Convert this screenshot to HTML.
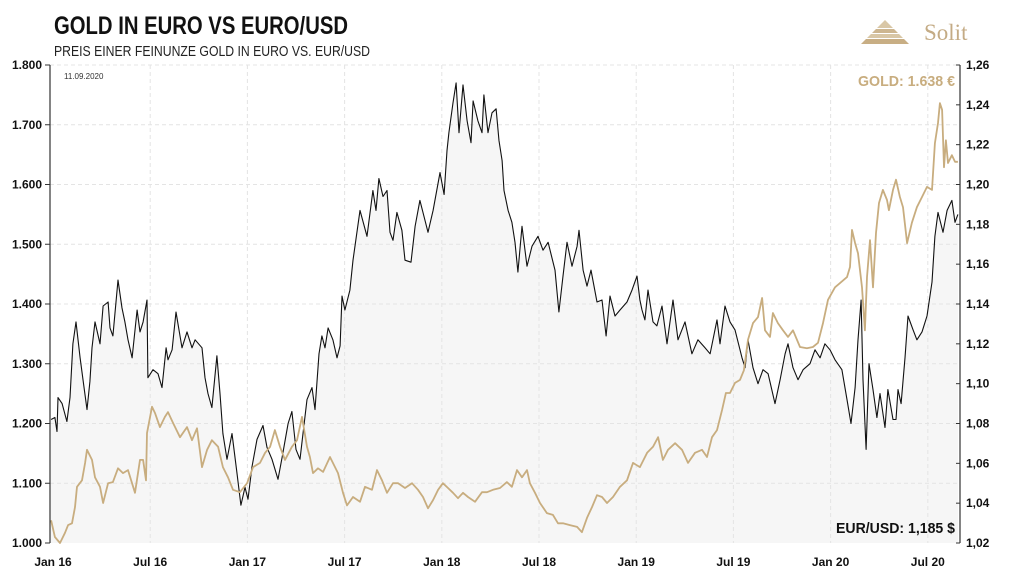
<!DOCTYPE html>
<html><head><meta charset="utf-8"><style>
html,body{margin:0;padding:0;background:#fff;}
svg{display:block;font-family:"Liberation Sans Narrow","Liberation Sans",sans-serif;}
</style></head><body>
<svg id="chart" width="1024" height="576" viewBox="0 0 1024 576">
<text x="54" y="34" font-size="25" font-weight="bold" fill="#111" textLength="294" lengthAdjust="spacingAndGlyphs">GOLD IN EURO VS EURO/USD</text>
<text x="54" y="56" font-size="15" fill="#222" textLength="316" lengthAdjust="spacingAndGlyphs">PREIS EINER FEINUNZE GOLD IN EURO VS.  EUR/USD</text>
<g>
<polygon points="885,20 893,28 877,28" fill="#d9c7a6"/>
<polygon points="876,29 894,29 898,33 872,33" fill="#cdb690"/>
<polygon points="871,34 899,34 903,38 867,38" fill="#d9c7a6"/>
<polygon points="866,39 904,39 909,44 861,44" fill="#c8ae84"/>
<text x="924" y="40" font-family="Liberation Serif,serif" font-size="23" fill="#c4ab85">Solit</text>
</g>
<g id="grid"></g>
<g id="plot"></g>
<g id="axes"></g>
<text x="64" y="79" font-family="Liberation Sans,sans-serif" font-size="8" fill="#333">11.09.2020</text>
<text x="858" y="86" font-size="15" font-weight="bold" fill="#c8ad7f" textLength="97" lengthAdjust="spacingAndGlyphs">GOLD: 1.638 €</text>
<text x="836" y="533" font-size="15" font-weight="bold" fill="#111" textLength="119" lengthAdjust="spacingAndGlyphs">EUR/USD: 1,185 $</text>
</svg>
<script>
const goldMonths=[-0.12,0.12,0.43,0.74,0.93,1.17,1.36,1.48,1.79,1.98,2.10,2.41,2.59,2.90,3.09,3.40,3.70,4.01,4.32,4.63,5.06,5.37,5.56,5.74,5.80,6.11,6.30,6.60,6.91,7.10,7.41,7.84,8.27,8.58,8.89,9.20,9.51,9.81,10.19,10.49,10.80,11.11,11.54,11.98,12.35,12.78,13.09,13.40,13.70,14.01,14.32,14.75,15.06,15.37,15.68,15.86,16.05,16.36,16.67,17.10,17.28,17.59,17.90,18.15,18.52,18.95,19.26,19.69,20.00,20.31,20.62,20.99,21.30,21.73,22.16,22.53,22.84,23.15,23.46,23.77,24.07,24.38,24.69,25.00,25.31,25.62,26.05,26.48,26.79,27.16,27.59,28.02,28.33,28.64,28.95,29.26,29.44,29.75,30.06,30.49,30.86,31.17,31.48,31.91,32.35,32.65,32.96,33.27,33.58,33.89,34.20,34.57,35.00,35.43,35.80,36.23,36.67,37.04,37.35,37.65,37.96,38.40,38.83,39.20,39.63,40.06,40.37,40.68,40.99,41.30,41.54,41.79,42.10,42.41,42.65,42.90,43.21,43.52,43.77,43.95,44.26,44.44,44.75,45.06,45.37,45.68,46.11,46.54,46.91,47.22,47.53,47.84,48.27,48.58,49.01,49.20,49.32,49.51,49.69,49.94,50.12,50.25,50.43,50.62,50.80,50.99,51.23,51.48,51.60,51.85,52.04,52.28,52.47,52.72,53.02,53.33,53.64,53.95,54.26,54.44,54.63,54.75,54.88,55.00,55.12,55.25,55.49,55.68,55.86];
const goldValues=[1.038,1.010,1.000,1.017,1.030,1.033,1.060,1.094,1.105,1.134,1.156,1.139,1.110,1.094,1.067,1.100,1.102,1.125,1.117,1.122,1.084,1.139,1.139,1.105,1.184,1.228,1.217,1.194,1.211,1.219,1.201,1.177,1.194,1.172,1.192,1.127,1.156,1.172,1.161,1.127,1.110,1.089,1.085,1.100,1.127,1.134,1.151,1.161,1.189,1.161,1.139,1.161,1.172,1.211,1.161,1.144,1.117,1.125,1.119,1.144,1.134,1.117,1.084,1.063,1.077,1.069,1.094,1.089,1.122,1.105,1.084,1.100,1.100,1.092,1.100,1.089,1.077,1.058,1.072,1.089,1.100,1.092,1.084,1.075,1.084,1.077,1.069,1.085,1.085,1.089,1.092,1.102,1.094,1.122,1.110,1.122,1.100,1.084,1.067,1.050,1.047,1.033,1.033,1.030,1.027,1.018,1.042,1.060,1.080,1.077,1.067,1.077,1.094,1.105,1.134,1.127,1.151,1.161,1.177,1.139,1.156,1.167,1.156,1.134,1.151,1.156,1.144,1.177,1.189,1.223,1.251,1.251,1.268,1.273,1.289,1.340,1.368,1.378,1.410,1.356,1.345,1.385,1.368,1.356,1.345,1.356,1.328,1.326,1.328,1.335,1.368,1.407,1.428,1.435,1.445,1.462,1.524,1.502,1.485,1.428,1.356,1.445,1.507,1.428,1.519,1.569,1.591,1.574,1.557,1.591,1.608,1.579,1.562,1.502,1.536,1.562,1.579,1.596,1.591,1.669,1.703,1.736,1.725,1.629,1.674,1.636,1.649,1.638,1.638];
const usdMonths=[-0.12,0.12,0.25,0.31,0.56,0.86,1.05,1.23,1.42,1.67,1.85,2.10,2.28,2.41,2.59,2.90,3.09,3.40,3.52,3.70,4.01,4.26,4.44,4.63,4.88,5.19,5.37,5.56,5.80,5.86,6.17,6.48,6.73,6.98,7.10,7.35,7.59,7.96,8.27,8.58,8.77,9.20,9.38,9.57,9.81,10.12,10.31,10.49,10.74,11.05,11.36,11.60,11.85,12.04,12.28,12.59,12.96,13.21,13.52,13.89,14.14,14.51,14.75,15.00,15.25,15.43,15.68,15.99,16.17,16.42,16.60,16.79,16.98,17.28,17.53,17.72,17.84,18.02,18.33,18.52,18.95,19.38,19.75,19.94,20.12,20.37,20.62,20.80,20.99,21.23,21.54,21.73,22.10,22.35,22.65,22.96,23.15,23.46,23.89,24.14,24.32,24.44,24.69,24.88,25.06,25.31,25.56,25.80,25.93,26.23,26.48,26.60,26.85,27.10,27.35,27.53,27.72,27.84,28.09,28.33,28.52,28.70,28.95,29.26,29.57,29.94,30.25,30.56,30.99,31.23,31.48,31.73,32.04,32.35,32.47,32.72,32.96,33.21,33.58,33.89,34.14,34.38,34.69,35.00,35.43,35.74,36.05,36.23,36.36,36.54,36.73,37.04,37.28,37.59,37.90,38.27,38.58,39.01,39.44,39.81,40.25,40.56,40.99,41.17,41.48,41.79,42.10,42.53,42.72,42.90,43.21,43.52,43.83,44.14,44.57,44.88,45.19,45.37,45.68,45.99,46.30,46.73,47.04,47.35,47.65,47.96,48.27,48.70,49.01,49.26,49.51,49.69,49.88,50.00,50.19,50.37,50.62,50.86,51.05,51.36,51.54,51.85,52.04,52.16,52.35,52.59,52.78,53.09,53.33,53.64,53.95,54.26,54.44,54.63,54.94,55.19,55.49,55.68,55.86];
const usdValues=[1.082,1.083,1.076,1.093,1.090,1.081,1.093,1.120,1.131,1.113,1.102,1.087,1.101,1.118,1.131,1.120,1.139,1.141,1.128,1.124,1.152,1.138,1.131,1.122,1.113,1.137,1.126,1.131,1.142,1.103,1.107,1.105,1.098,1.118,1.112,1.117,1.136,1.118,1.126,1.118,1.122,1.118,1.103,1.095,1.088,1.114,1.095,1.075,1.062,1.075,1.055,1.039,1.048,1.042,1.058,1.072,1.079,1.068,1.062,1.052,1.063,1.080,1.086,1.067,1.062,1.075,1.092,1.098,1.087,1.115,1.124,1.118,1.128,1.122,1.113,1.119,1.144,1.137,1.147,1.162,1.187,1.174,1.197,1.187,1.203,1.194,1.197,1.176,1.172,1.186,1.177,1.162,1.161,1.179,1.192,1.182,1.176,1.187,1.206,1.195,1.217,1.226,1.241,1.251,1.226,1.250,1.232,1.221,1.242,1.232,1.226,1.245,1.226,1.236,1.238,1.222,1.212,1.197,1.187,1.181,1.171,1.156,1.179,1.159,1.169,1.174,1.167,1.171,1.157,1.136,1.154,1.171,1.159,1.169,1.177,1.157,1.149,1.157,1.141,1.142,1.124,1.144,1.134,1.137,1.141,1.147,1.154,1.142,1.137,1.132,1.147,1.131,1.129,1.139,1.120,1.142,1.122,1.131,1.115,1.122,1.118,1.115,1.132,1.120,1.139,1.131,1.127,1.113,1.108,1.122,1.108,1.100,1.107,1.105,1.090,1.102,1.115,1.120,1.108,1.102,1.107,1.110,1.117,1.113,1.120,1.117,1.112,1.107,1.092,1.080,1.098,1.122,1.142,1.102,1.067,1.110,1.097,1.083,1.095,1.078,1.097,1.082,1.082,1.097,1.090,1.113,1.134,1.127,1.122,1.126,1.134,1.151,1.174,1.186,1.176,1.187,1.192,1.181,1.185];
const xTickMonths=[0,6,12,18,24,30,36,42,48,54];
const xTickLabels=["Jan 16","Jul 16","Jan 17","Jul 17","Jan 18","Jul 18","Jan 19","Jul 19","Jan 20","Jul 20"];
const leftTicks=[1.0,1.1,1.2,1.3,1.4,1.5,1.6,1.7,1.8];
const leftTickLabels=["1.000","1.100","1.200","1.300","1.400","1.500","1.600","1.700","1.800"];
const rightTicks=[1.02,1.04,1.06,1.08,1.10,1.12,1.14,1.16,1.18,1.20,1.22,1.24,1.26];
const rightTickLabels=["1,02","1,04","1,06","1,08","1,10","1,12","1,14","1,16","1,18","1,20","1,22","1,24","1,26"];

const NS="http://www.w3.org/2000/svg";
const TOP=65,BOT=543,LEFTX=50,RIGHTX=960;
function xS(m){return 53+m*16.2;}
function yL(v){return BOT-(v-1.0)/(0.8)*(BOT-TOP);}
function yR(v){return BOT-(v-1.02)/(0.24)*(BOT-TOP);}
function mk(tag,attrs,parent){const e=document.createElementNS(NS,tag);for(const k in attrs)e.setAttribute(k,attrs[k]);parent.appendChild(e);return e;}
const grid=document.getElementById('grid'),plot=document.getElementById('plot'),axes=document.getElementById('axes');

let d="M"+xS(usdMonths[0]).toFixed(1)+","+BOT;
for(let i=0;i<usdMonths.length;i++)d+=" L"+xS(usdMonths[i]).toFixed(1)+","+yR(usdValues[i]).toFixed(1);
d+=" L"+xS(usdMonths[usdMonths.length-1]).toFixed(1)+","+BOT+" Z";
const area=mk('path',{d:d,fill:'#f6f6f6'},grid);



leftTicks.forEach((v,i)=>{
  const y=yL(v);
  if(i>0){const g=mk('line',{x1:LEFTX,x2:RIGHTX,y1:y,y2:y,stroke:'#e4e4e4','stroke-width':1,'stroke-dasharray':'4,3'},grid);
  
  }
  mk('line',{x1:LEFTX-5,x2:LEFTX,y1:y,y2:y,stroke:'#333','stroke-width':1},axes);
  const t=mk('text',{x:42,y:y+4,'text-anchor':'end','font-size':12,'font-weight':'bold',fill:'#111'},axes);
  t.textContent=leftTickLabels[i];
  
  
});
xTickMonths.forEach((m,i)=>{
  const x=xS(m);
  if(i>0){const g=mk('line',{x1:x,x2:x,y1:TOP,y2:BOT,stroke:'#e4e4e4','stroke-width':1,'stroke-dasharray':'4,3'},grid);
  
  }
  const t=mk('text',{x:x,y:566,'text-anchor':'middle','font-size':12,'font-weight':'bold',fill:'#111'},axes);
  t.textContent=xTickLabels[i];
  
  
});
rightTicks.forEach((v,i)=>{
  const y=yR(v);
  mk('line',{x1:RIGHTX-4,x2:RIGHTX,y1:y,y2:y,stroke:'#333','stroke-width':1},axes);
  const t=mk('text',{x:966,y:y+4,'font-size':12,'font-weight':'bold',fill:'#111'},axes);
  t.textContent=rightTickLabels[i];
  
  
});
const la=mk('line',{x1:LEFTX,x2:LEFTX,y1:TOP,y2:BOT,stroke:'#333','stroke-width':1.2},axes);


const ra=mk('line',{x1:RIGHTX,x2:RIGHTX,y1:TOP,y2:BOT,stroke:'#333','stroke-width':1.2},axes);



let pu="";
usdMonths.forEach((m,i)=>{pu+=(i?" L":"M")+xS(m).toFixed(1)+","+yR(usdValues[i]).toFixed(1);});
const lu=mk('path',{d:pu,fill:'none',stroke:'#111','stroke-width':1.1,'stroke-linejoin':'round'},plot);


let pg="";
goldMonths.forEach((m,i)=>{pg+=(i?" L":"M")+xS(m).toFixed(1)+","+yL(goldValues[i]).toFixed(1);});
const lg=mk('path',{d:pg,fill:'none',stroke:'#c8ad7f','stroke-width':1.8,'stroke-linejoin':'round'},plot);


</script>
</body></html>
